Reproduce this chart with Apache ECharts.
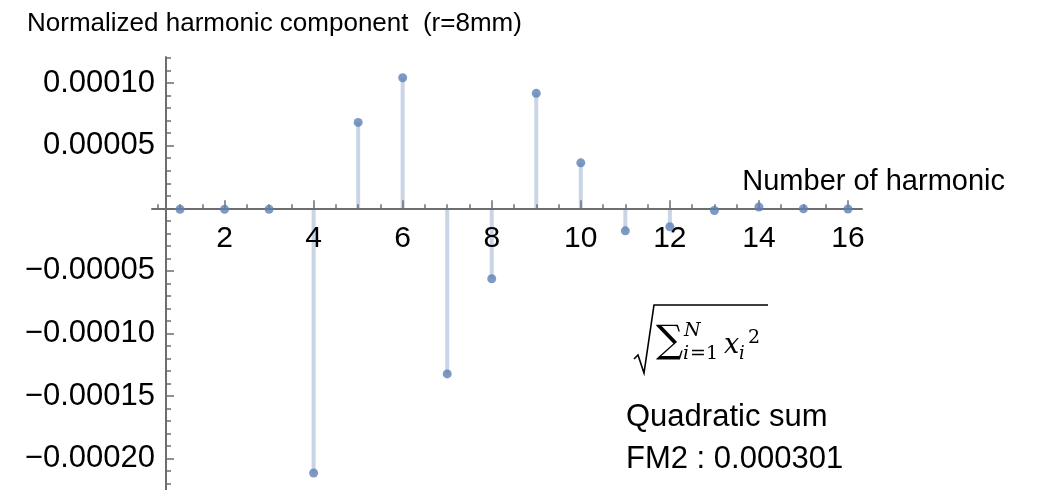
<!DOCTYPE html>
<html><head><meta charset="utf-8">
<script src="https://cdn.jsdelivr.net/npm/echarts@6/dist/echarts.min.js"></script>
<style>html,body{margin:0;padding:0;background:#fff}#c{width:1038px;height:490px}</style>
</head><body><div id="c"></div>
<script>
// ---- data ----
const harmonics = [1, 2, 3, 4, 5, 6, 7, 8, 9, 10, 11, 12, 13, 14, 15, 16];
const components = [-0.0000008, -0.0000008, -0.0000008, -0.0002114, 0.0000686, 0.0001043,
  -0.0001323, -0.0000563, 0.0000918, 0.0000363, -0.0000180, -0.0000147,
  -0.0000018, 0.0000010, -0.0000004, -0.0000006];
const xTickLabels = [2, 4, 6, 8, 10, 12, 14, 16];
const yTickLabels = [-0.00020, -0.00015, -0.00010, -0.00005, 0.00005, 0.00010];
const titleText = 'Normalized harmonic component  (r=8mm)';
const xAxisName = 'Number of harmonic';
const noteLines = ['Quadratic sum', 'FM2 : 0.000301'];

// ---- derived ----
const points = harmonics.map((h, i) => [h, components[i]]);
const xMinorTicks = [];
for (let k = 1; k <= 32; k++) xMinorTicks.push(k * 0.5);
const yMinorTicks = [];
for (let k = -22; k <= 12; k++) yMinorTicks.push(k * 1e-5);
const yMajorTicks = [-0.0002, -0.00015, -0.0001, -0.00005, 0, 0.00005, 0.0001];

const AX = '#6e6e6e';
const SANS = '"Liberation Sans", Arial, sans-serif';
const X_MIN = 0.3705, X_MAX = 16.315;
const Y_MIN = -0.000225, Y_MAX = 0.00012085;
const TOP = 57, H = 433;
const zeroY = TOP + H * Y_MAX / (Y_MAX - Y_MIN);
const fmtY = v => (v < 0 ? '\u2212' : '') + Math.abs(v).toFixed(5);

const chart = echarts.init(document.getElementById('c'), null, {renderer: 'canvas'});
const serif = '"DejaVu Serif", "Liberation Serif", serif';
chart.setOption({
  animation: false,
  backgroundColor: '#fff',
  grid: [
    {left: 152, right: 176, top: TOP, height: H, containLabel: false, outerBoundsMode: 'none'},
    {left: 152, right: 176, top: TOP, height: zeroY - TOP, containLabel: false, outerBoundsMode: 'none'}
  ],
  xAxis: [
    {gridIndex: 0, type: 'value', min: X_MIN, max: X_MAX, show: false},
    {gridIndex: 1, type: 'value', min: X_MIN, max: X_MAX, position: 'bottom', z: 2,
     axisLine: {show: true, onZero: false, lineStyle: {color: AX, width: 2}},
     axisTick: {show: true, inside: true, length: 4, customValues: xMinorTicks, lineStyle: {color: AX, width: 1.5}},
     axisLabel: {show: true, customValues: xTickLabels, margin: 15, fontSize: 30, color: '#000', fontFamily: SANS},
     splitLine: {show: false}},
    {gridIndex: 1, type: 'value', min: X_MIN, max: X_MAX, position: 'bottom', z: 2,
     axisLine: {show: false, onZero: false},
     axisTick: {show: true, inside: true, length: 8, customValues: xTickLabels, lineStyle: {color: AX, width: 1.5}},
     axisLabel: {show: false}, splitLine: {show: false}}
  ],
  yAxis: [
    {gridIndex: 0, type: 'value', min: Y_MIN, max: Y_MAX, position: 'left', offset: -14, z: 2,
     axisLine: {show: true, onZero: false, lineStyle: {color: AX, width: 2}},
     axisTick: {show: true, inside: true, length: 5, customValues: yMinorTicks, lineStyle: {color: AX, width: 1.5}},
     axisLabel: {show: true, customValues: yTickLabels, formatter: fmtY, margin: 11, fontSize: 31, color: '#000', fontFamily: SANS},
     splitLine: {show: false}},
    {gridIndex: 0, type: 'value', min: Y_MIN, max: Y_MAX, position: 'left', offset: -14, z: 2,
     axisLine: {show: false, onZero: false},
     axisTick: {show: true, inside: true, length: 8, customValues: yMajorTicks, lineStyle: {color: AX, width: 1.5}},
     axisLabel: {show: false}, splitLine: {show: false}},
    {gridIndex: 1, type: 'value', min: 0, max: Y_MAX, show: false}
  ],
  series: [
    {type: 'bar', xAxisIndex: 0, yAxisIndex: 0, data: points, barWidth: 4,
     itemStyle: {color: '#c9d5e6'}, z: 1},
    {type: 'scatter', xAxisIndex: 0, yAxisIndex: 0, data: points, symbol: 'circle', symbolSize: 9,
     itemStyle: {color: '#5e81b5'}, z: 4}
  ],
  graphic: [
    {type: 'text', left: 27, top: 11, style: {text: titleText, fontSize: 26, fill: '#000', fontFamily: SANS}},
    {type: 'text', right: 33, top: 167, style: {text: xAxisName, fontSize: 29, fill: '#000', fontFamily: SANS}},
    {type: 'text', left: 626, top: 402, style: {text: noteLines[0], fontSize: 31, fill: '#000', fontFamily: SANS}},
    {type: 'text', left: 626, top: 444, style: {text: noteLines[1], fontSize: 31, fill: '#000', fontFamily: SANS}},
    // formula sqrt(sum x_i^2)
    {type: 'polyline', shape: {points: [[634, 359], [638, 355], [644, 373], [654, 305], [768, 305]]},
     style: {stroke: '#000', lineWidth: 1.6, fill: null}, z: 10},
    {type: 'text', x: 656, y: 342, style: {text: '\u2211', fontSize: 38, fill: '#000', fontFamily: serif, verticalAlign: 'middle'}},
    {type: 'text', x: 684, y: 331, style: {text: 'N', fontSize: 19, fontStyle: 'italic', fill: '#000', fontFamily: serif, verticalAlign: 'middle'}},
    {type: 'text', x: 683, y: 354, style: {text: 'i', fontSize: 19, fontStyle: 'italic', fill: '#000', fontFamily: serif, verticalAlign: 'middle'}},
    {type: 'text', x: 690, y: 354, style: {text: '=1', fontSize: 19, fill: '#000', fontFamily: serif, verticalAlign: 'middle'}},
    {type: 'text', x: 724, y: 346, style: {text: 'x', fontSize: 27, fontStyle: 'italic', fill: '#000', fontFamily: serif, verticalAlign: 'middle'}},
    {type: 'text', x: 739, y: 354, style: {text: 'i', fontSize: 18, fontStyle: 'italic', fill: '#000', fontFamily: serif, verticalAlign: 'middle'}},
    {type: 'text', x: 748, y: 338, style: {text: '2', fontSize: 19, fill: '#000', fontFamily: serif, verticalAlign: 'middle'}}
  ]
});
</script></body></html>
